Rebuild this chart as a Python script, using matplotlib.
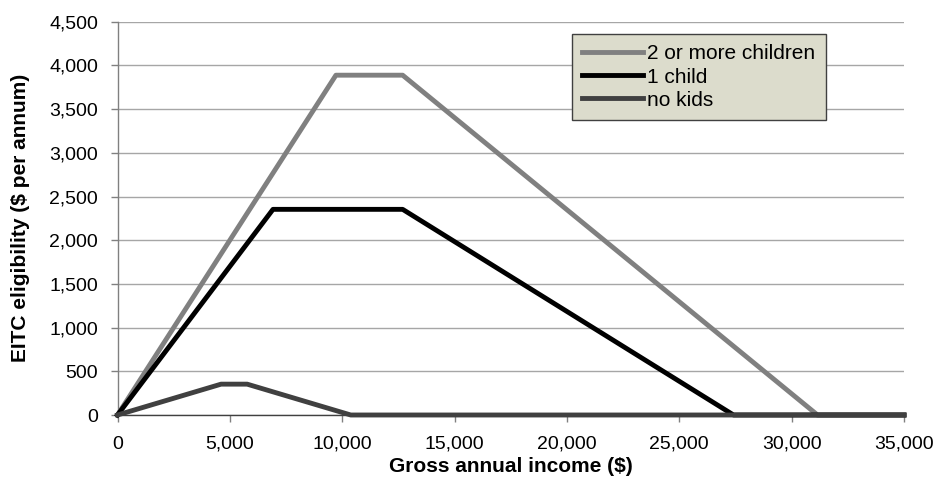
import matplotlib
matplotlib.use("Agg")
import matplotlib.pyplot as plt
from matplotlib.ticker import FuncFormatter, MultipleLocator

plt.rcParams['font.family'] = ['Liberation Sans', 'DejaVu Sans']

# EITC schedule vertices (income $, credit $)
income_two = [0, 9720, 12690, 31152, 35000]
credit_two = [0, 3888, 3888, 0, 0]

income_one = [0, 6920, 12690, 27413, 35000]
credit_one = [0, 2353, 2353, 0, 0]

income_none = [0, 4610, 5770, 10380, 35000]
credit_none = [0, 353, 353, 0, 0]

series_labels = ["2 or more children", "1 child", "no kids"]

W, H = 941, 501
fig = plt.figure(figsize=(W / 100, H / 100), dpi=100)
ax = fig.add_axes([117.5 / W, 1 - 415 / H, (904 - 117.5) / W, (415 - 21.7) / H])

lw = 3.5
ax.plot(income_two, credit_two, color="#808080", lw=lw, label=series_labels[0],
        clip_on=False, solid_joinstyle="round", zorder=3)
ax.plot(income_one, credit_one, color="#000000", lw=lw, label=series_labels[1],
        clip_on=False, solid_joinstyle="round", zorder=4)
ax.plot(income_none, credit_none, color="#404040", lw=lw, label=series_labels[2],
        clip_on=False, solid_joinstyle="round", zorder=5)

ax.set_xlim(0, 35000)
ax.set_ylim(0, 4500)
ax.xaxis.set_major_locator(MultipleLocator(5000))
ax.yaxis.set_major_locator(MultipleLocator(500))
fmt = FuncFormatter(lambda v, p: f"{int(round(v)):,}")
ax.xaxis.set_major_formatter(fmt)
ax.yaxis.set_major_formatter(fmt)

ax.grid(axis="y", color="#a6a6a6", lw=1.0)
ax.set_axisbelow(True)
for s in ["top", "right"]:
    ax.spines[s].set_visible(False)
ax.spines["left"].set_color("#808080")
ax.spines["bottom"].set_color("#404040")
ax.spines["left"].set_linewidth(1.0)
ax.spines["bottom"].set_linewidth(1.0)

ax.tick_params(axis="both", direction="out", length=5, width=1, color="#808080",
               labelsize=14, labelcolor="black")
ax.tick_params(axis="y", pad=9)
ax.tick_params(axis="x", pad=10)

ax.set_xlabel("Gross annual income ($)", fontsize=15, fontweight="bold", labelpad=3)
ax.set_ylabel("EITC eligibility ($ per annum)", fontsize=15, fontweight="bold", labelpad=14)

leg = ax.legend(loc="upper left", bbox_to_anchor=(572 / W, 1 - 34 / H),
                bbox_transform=fig.transFigure, fontsize=15, frameon=True,
                fancybox=False, handlelength=2.9, handletextpad=0.2,
                labelspacing=0.2, borderpad=0.5, borderaxespad=0)
frame = leg.get_frame()
frame.set_facecolor("#dcdccc")
frame.set_edgecolor("#404040")
frame.set_linewidth(1.0)
frame.set_alpha(1)

fig.savefig("out.png", dpi=100)
